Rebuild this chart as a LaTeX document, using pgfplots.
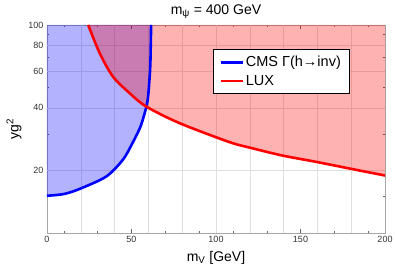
\documentclass[border=0pt]{standalone}
\usepackage{fontspec}
\setmainfont{Liberation Sans}
\usepackage{pgfplots}
\pgfplotsset{compat=1.18}
\definecolor{cblue}{RGB}{0,0,255}
\definecolor{cred}{RGB}{255,0,0}
\begin{document}
\begin{tikzpicture}
\begin{axis}[
  scale only axis, width=338pt, height=208pt,
  xmin=0, xmax=200, ymin=10, ymax=100, ymode=log,
  /pgf/number format/assume math mode=true,
  xtick={0,50,100,150,200},
  minor x tick num=4,
  ytick={20,40,60,80,100}, yticklabels={20,40,60,80,100},
  minor ytick={15,30,50,70,90},
  extra x ticks={20,40,60,80,100,120,140,160,180},
  extra x tick labels={},
  extra y ticks={20,40,60,80},
  extra y tick labels={},
  extra tick style={grid=major, major tick length=0pt},
  major grid style={gray!25, line width=0.5pt},
  tick align=inside, tick pos=both,
  xticklabel pos=lower, yticklabel pos=left,
  major tick length=4pt, minor tick length=2pt,
  every tick/.style={gray!80!black, line width=0.4pt},
  axis line style={gray!70, line width=0.6pt},
  tick label style={font=\fontsize{9}{10}\selectfont, text=black!80},
  xlabel={m\textsubscript{V} [GeV]},
  xlabel style={at={(axis description cs:0.5,0)}, anchor=center, yshift=-25pt, font=\fontsize{14}{16}\selectfont},
  ylabel={yg\textsuperscript{2}},
  ylabel style={at={(axis description cs:0,0.5)}, anchor=center, yshift=33pt, font=\fontsize{14}{16}\selectfont},
  legend style={at={(axis description cs:0.491,0.885)}, anchor=north west, draw=black, fill=white,
    font=\fontsize{14.5}{16}\selectfont, inner xsep=6pt, inner ysep=5pt, row sep=3pt, line width=0.6pt},
  legend cell align=left,
  legend image code/.code={\draw[#1] (0pt,0pt) -- (22pt,0pt);},
]
% blue filled region
\addplot[draw=none, fill=cblue, fill opacity=0.3, forget plot] coordinates {
 (0,15.1) (10,15.4) (19.4,16.3) (35.1,18.7) (44.9,22.5) (50,26.5) (55,32) (57.5,37)
 (59.6,43.7) (61,60.8) (61.4,80) (61.6,100) (0,100)} -- cycle;
% red filled region
\addplot[draw=none, fill=cred, fill opacity=0.3, forget plot] coordinates {
 (24.4,100) (31.2,73.2) (39,56.5) (48.8,47.1) (58.6,40.6) (78.2,33.8) (107.7,27.4)
 (119.4,25.8) (139,23.6) (159,22) (179.2,20.4) (200,18.9) (200,100)} -- cycle;
\addplot[draw=cblue, line width=2.6pt, smooth] coordinates {
 (0,15.1) (10,15.4) (19.4,16.3) (35.1,18.7) (44.9,22.5) (50,26.5) (55,32) (57.5,37)
 (59.6,43.7) (61,60.8) (61.4,80) (61.6,100)};
\addlegendentry{CMS Γ(h→inv)}
\addplot[draw=cred, line width=2.6pt, smooth] coordinates {
 (24.4,100) (31.2,73.2) (39,56.5) (48.8,47.1) (58.6,40.6) (78.2,33.8) (107.7,27.4)
 (119.4,25.8) (139,23.6) (159,22) (179.2,20.4) (200,18.9)};
\addlegendentry{LUX}
\end{axis}
\node[font=\fontsize{14}{16}\selectfont] at ([yshift=13pt]current axis.north) {m\textsubscript{ψ} = 400 GeV};
\pgfresetboundingbox
\path (-47pt,-39pt) rectangle (348pt,233pt);
\end{tikzpicture}
\end{document}
